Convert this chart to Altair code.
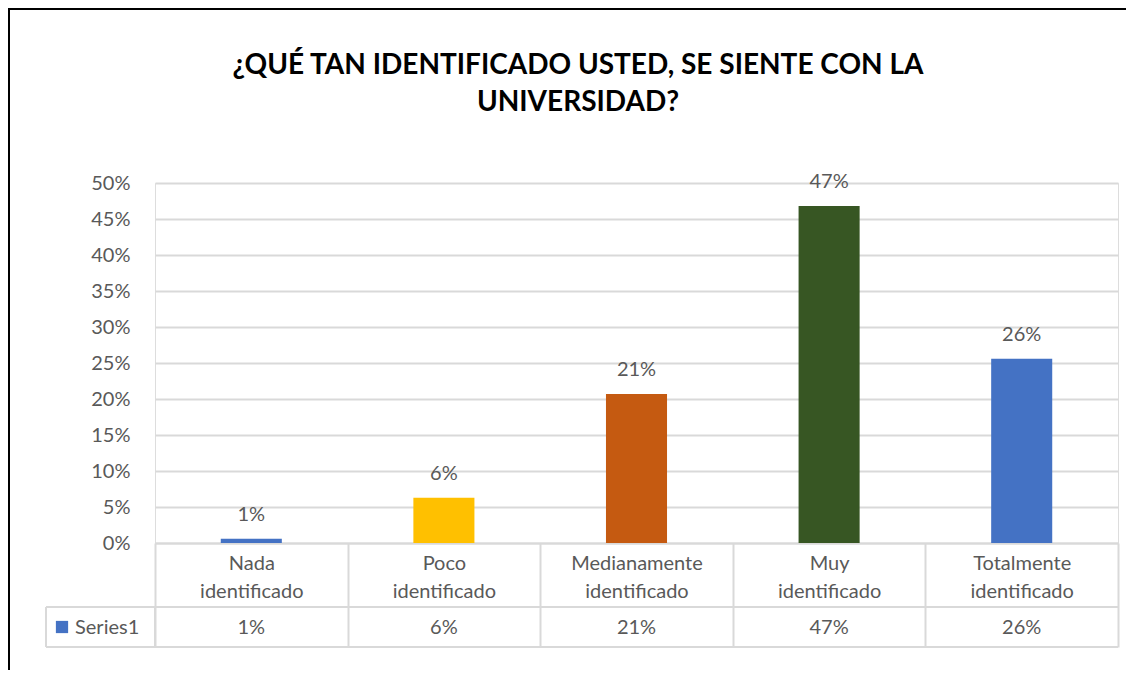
import altair as alt
import pandas as pd

categories = ["Nada identificado", "Poco identificado", "Medianamente identificado",
              "Muy identificado", "Totalmente identificado"]
values = [0.006, 0.063, 0.207, 0.468, 0.256]
value_labels = ["1%", "6%", "21%", "47%", "26%"]
bar_colors = ["#4472C4", "#FFC000", "#C55A11", "#375623", "#4472C4"]
series_name = "Series1"
y_ticks = [0, 0.05, 0.10, 0.15, 0.20, 0.25, 0.30, 0.35, 0.40, 0.45, 0.50]
title_lines = ["¿QUÉ TAN IDENTIFICADO USTED, SE SIENTE CON LA", "UNIVERSIDAD?"]

df = pd.DataFrame({"cat": categories, "val": values, "lab": value_labels})
one = pd.DataFrame({"k": [0]})

W, H = 963, 360
PL, PT = 147, 175
TOTAL_W, TOTAL_H = 1118, 662
FONT = "Lato"
GREY = "#595959"
LINE = "#D9D9D9"
FS = 20

x_enc = alt.X(
    "cat:N", sort=categories,
    scale=alt.Scale(paddingInner=0, paddingOuter=0),
    axis=alt.Axis(
        title=None, labelExpr="split(datum.label, ' ')", labelAngle=0,
        tickBand="extent", tickSize=104, tickColor=LINE, tickWidth=2,
        domainColor=LINE, domainWidth=2, labelPadding=-94,
        labelFont=FONT, labelFontSize=FS, labelColor=GREY,
        labelLineHeight=28, labelBaseline="top",
    ),
)
y_enc = alt.Y(
    "val:Q",
    scale=alt.Scale(domain=[0, 0.5], nice=False),
    axis=alt.Axis(
        title=None, format=".0%", values=y_ticks, grid=True, gridColor=LINE,
        gridWidth=2, domain=False, ticks=False, labelPadding=25,
        labelOverlap=False, labelFont=FONT, labelFontSize=FS, labelColor=GREY,
    ),
)

base = alt.Chart(df)

bars = base.mark_bar(width={"band": 0.317}).encode(
    x=x_enc, y=y_enc,
    color=alt.Color("cat:N", scale=alt.Scale(domain=categories, range=bar_colors), legend=None),
)

bar_labels = base.mark_text(baseline="bottom", dy=-14, font=FONT, fontSize=FS, color=GREY).encode(
    x=x_enc, y=y_enc, text="lab:N"
)

table_vals = base.mark_text(baseline="middle", font=FONT, fontSize=FS, color=GREY).encode(
    x=x_enc, y=alt.value(445), text="lab:N"
)

def hline(yv):
    return alt.Chart(one).mark_rule(color=LINE, strokeWidth=2).encode(
        x=alt.value(-109), x2=alt.value(W), y=alt.value(yv)
    )

def vline(xv):
    return alt.Chart(one).mark_rule(color=LINE, strokeWidth=2).encode(
        x=alt.value(xv), y=alt.value(424), y2=alt.value(464)
    )

legend_sq = alt.Chart(one).mark_square(size=150, color="#4472C4", opacity=1).encode(
    x=alt.value(-93), y=alt.value(444)
)
legend_txt = alt.Chart(one).mark_text(align="left", baseline="middle", font=FONT, fontSize=FS, color=GREY).encode(
    x=alt.value(-80), y=alt.value(445), text=alt.value(series_name)
)

def title_line(txt, yv):
    return alt.Chart(one).mark_text(
        align="center", baseline="middle", font=FONT, fontSize=28, fontWeight="bold", color="black"
    ).encode(x=alt.value(423), y=alt.value(yv), text=alt.value(txt))

border = alt.Chart(one).mark_rect(fillOpacity=0, stroke="black", strokeWidth=2).encode(
    x=alt.value(-146), y=alt.value(-174), x2=alt.value(W + 200), y2=alt.value(H + 300)
)

chart = alt.layer(
    bars, bar_labels, table_vals,
    hline(424), hline(464), vline(-109), vline(0),
    legend_sq, legend_txt,
    title_line(title_lines[0], -117), title_line(title_lines[1], -80),
    border,
).properties(
    width=W, height=H,
    autosize=alt.AutoSizeParams(type="none"),
    padding={"left": PL, "top": PT, "right": TOTAL_W - PL - W, "bottom": TOTAL_H - PT - H},
).configure_view(stroke=None).configure(background="white")

chart.save("out.html", embed_options={"renderer": "svg", "actions": False})
